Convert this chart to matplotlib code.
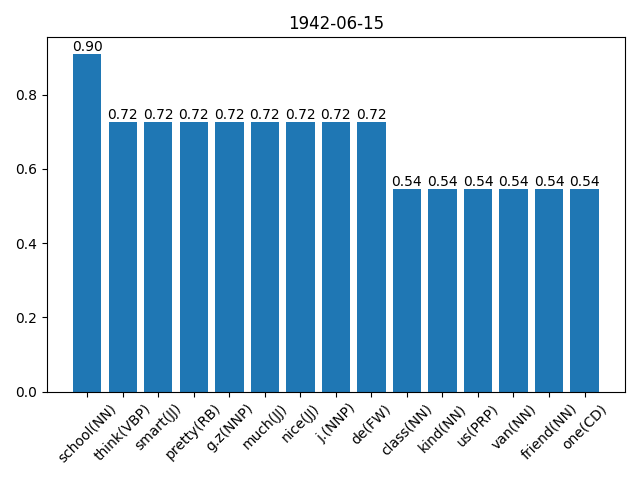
import matplotlib
matplotlib.use('Agg')
import matplotlib.pyplot as plt

words = ['school(NN)', 'think(VBP)', 'smart(JJ)', 'pretty(RB)', 'g.z(NNP)', 'much(JJ)',
         'nice(JJ)', 'j.(NNP)', 'de(FW)', 'class(NN)', 'kind(NN)', 'us(PRP)',
         'van(NN)', 'friend(NN)', 'one(CD)']
scores = [10/11] + [8/11] * 8 + [6/11] * 6

fig, ax = plt.subplots(figsize=(6.4, 4.8), dpi=100)
bars = ax.bar(words, scores)
for b, v in zip(bars, scores):
    ax.text(b.get_x() + b.get_width() / 2, v, str(v)[:4], ha='center', va='bottom')
ax.set_title('1942-06-15')
plt.xticks(rotation=45)
plt.tight_layout()
plt.savefig('out.png')
